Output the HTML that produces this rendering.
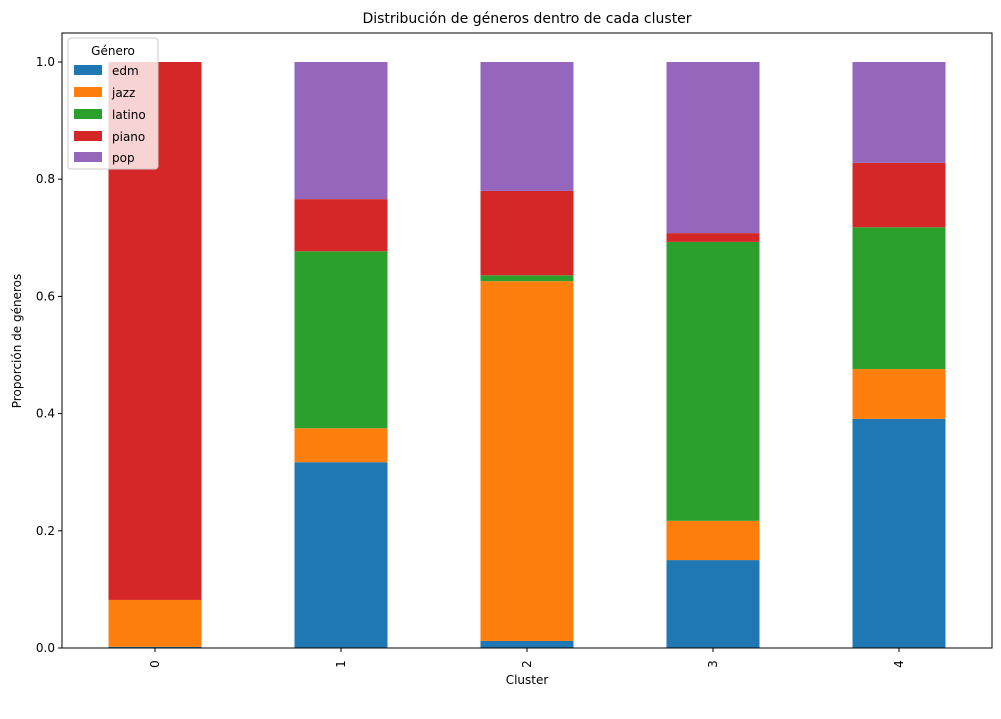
<!DOCTYPE html>
<html><head><meta charset="utf-8"><style>
body{margin:0;background:#fff;font-family:"Liberation Sans","DejaVu Sans",sans-serif;}
svg text{font-family:"DejaVu Sans","Liberation Sans",sans-serif;}
</style></head><body>
<svg id="chart" width="1001" height="696" xmlns="http://www.w3.org/2000/svg"></svg>
<script>
const categories = ["0","1","2","3","4"];
const genres = ["edm","jazz","latino","piano","pop"];
const colors = ["#1f77b4","#ff7f0e","#2ca02c","#d62728","#9467bd"];
const edm    = [0.002,0.317,0.012,0.150,0.391];
const jazz   = [0.080,0.058,0.614,0.067,0.085];
const latino = [0.000,0.302,0.010,0.476,0.242];
const piano  = [0.918,0.089,0.144,0.015,0.110];
const pop    = [0.000,0.234,0.220,0.292,0.172];
const yTicks = ["0.0","0.2","0.4","0.6","0.8","1.0"];

const series=[edm,jazz,latino,piano,pop];
const NS="http://www.w3.org/2000/svg";
const svg=document.getElementById('chart');
const L=62,R=992,T=33,B=648;
const y=v=>B-v*586;
const x=i=>L+(i+0.5)*(R-L)/categories.length;
const bw=93;
function mk(tag,attrs,parent){const e=document.createElementNS(NS,tag);for(const k in attrs)e.setAttribute(k,attrs[k]);(parent||svg).appendChild(e);return e;}
categories.forEach((c,i)=>{
  let acc=0;
  series.forEach((s,j)=>{
    const r=mk('rect',{x:x(i)-bw/2,y:y(acc+s[i]),width:bw,height:s[i]*586,fill:colors[j]});
    
    
    acc+=s[i];
  });
  mk('line',{x1:x(i),x2:x(i),y1:B,y2:B+4,stroke:'#000'});
  const t=mk('text',{x:0,y:0,'font-size':12,'text-anchor':'middle',transform:`translate(${x(i)+4},${B+16}) rotate(-90)`});
  t.textContent=c;
  
  
});
yTicks.forEach(lab=>{
  const v=parseFloat(lab);
  mk('line',{x1:L-4,x2:L,y1:y(v),y2:y(v),stroke:'#000'});
  const t=mk('text',{x:L-7,y:y(v)+4,'font-size':12,'text-anchor':'end'});
  t.textContent=lab;
  
  
});
const ax=mk('rect',{x:L,y:T,width:R-L,height:B-T,fill:'none',stroke:'#000','stroke-width':1});


</script>
<svg width="0" height="0"></svg>
<div style="position:absolute;left:0;top:0;width:1001px;height:696px;pointer-events:none">
<svg width="1001" height="696" xmlns="http://www.w3.org/2000/svg">
<text x="527" y="23" font-size="14" text-anchor="middle">Distribución de géneros dentro de cada cluster</text>
<text x="527" y="684" font-size="12" text-anchor="middle">Cluster</text>
<text transform="translate(21,341) rotate(-90)" font-size="12" text-anchor="middle">Proporción de géneros</text>
<g>
<rect x="68" y="38" width="90" height="131" rx="3" fill="#fff" fill-opacity="0.8" stroke="#ccc"/>
<text x="113" y="55" font-size="12" text-anchor="middle">Género</text>
<rect x="74" y="65" width="28" height="10" fill="#1f77b4"/><text x="112" y="75" font-size="12">edm</text>
<rect x="74" y="87" width="28" height="10" fill="#ff7f0e"/><text x="112" y="97" font-size="12">jazz</text>
<rect x="74" y="109" width="28" height="10" fill="#2ca02c"/><text x="112" y="119" font-size="12">latino</text>
<rect x="74" y="131" width="28" height="10" fill="#d62728"/><text x="112" y="141" font-size="12">piano</text>
<rect x="74" y="152" width="28" height="10" fill="#9467bd"/><text x="112" y="162" font-size="12">pop</text>
</g>
</svg></div>
</body></html>
